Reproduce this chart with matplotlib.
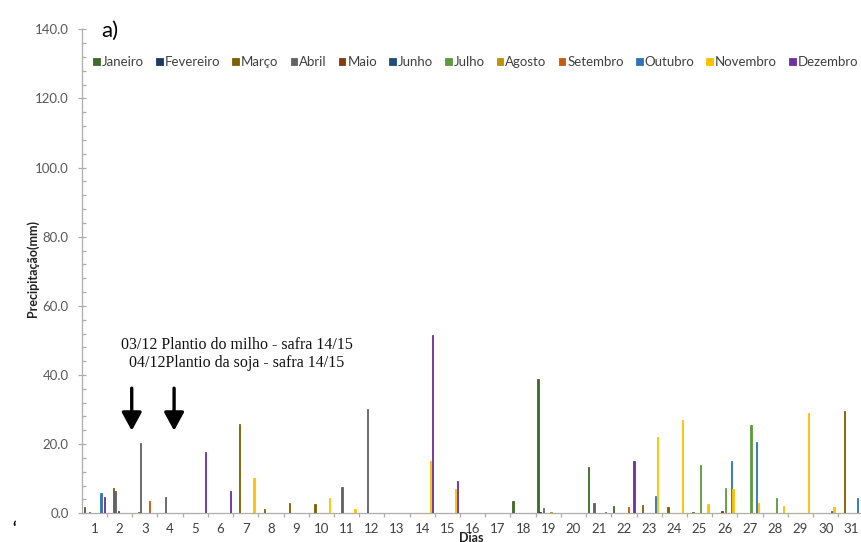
import numpy as np
import matplotlib
matplotlib.use("Agg")
import matplotlib.pyplot as plt

# Daily rainfall (mm) for each month, days 1..31
days = np.arange(1, 32)

janeiro   = [1.7, 0, 0, 0, 0, 0, 0, 0, 0, 0, 0, 0, 0, 0, 0, 0, 0, 3.6, 38.9, 0, 13.5, 2.1, 0, 0, 0, 0, 0, 0, 0, 0, 0]
fevereiro = [0, 0, 0, 0, 0, 0, 0, 0, 0, 0, 0, 0, 0, 0, 0, 0, 0, 0, 0.4, 0, 0, 0, 0, 0, 0, 0, 0, 0, 0, 0, 0]
marco     = [0, 7.4, 0.4, 0, 0, 0, 25.9, 1.3, 3.1, 2.7, 0, 0, 0, 0, 0, 0, 0, 0, 0, 0, 0, 0, 2.3, 1.7, 0.3, 0, 0, 0, 0, 0, 29.6]
abril     = [0.3, 6.5, 20.3, 4.7, 0, 0, 0, 0, 0, 0, 7.7, 30.1, 0, 0, 0, 0, 0, 0, 1.5, 0, 3.1, 0, 0, 0, 0, 0, 0, 0, 0, 0, 0]
maio      = [0, 0, 0, 0, 0, 0, 0, 0, 0, 0, 0, 0, 0, 0, 0, 0, 0, 0, 0, 0, 0, 0, 0, 0, 0, 0.6, 0, 0, 0, 0, 0]
junho     = [0, 0.7, 0, 0, 0, 0, 0, 0, 0, 0, 0, 0, 0, 0, 0, 0, 0, 0, 0, 0, 0, 0, 0, 0, 0, 0, 0, 0, 0, 0, 0]
julho     = [0, 0, 0, 0, 0, 0, 0, 0, 0, 0, 0, 0, 0, 0, 0, 0, 0, 0, 0, 0, 0, 0, 0, 0, 14.1, 7.3, 25.6, 4.3, 0, 0, 0]
agosto    = [0, 0, 0, 0, 0, 0, 0, 0, 0, 0, 0, 0, 0, 0, 0, 0, 0, 0, 0.3, 0, 0, 0, 0, 0, 0, 0, 0, 0, 0, 0, 0]
setembro  = [0, 0, 3.6, 0, 0, 0, 0, 0, 0, 0, 0, 0, 0, 0, 0, 0, 0, 0, 0, 0, 0, 1.7, 0, 0, 0, 0, 0, 0, 0, 0, 0]
outubro   = [5.9, 0, 0, 0, 0, 0, 0, 0, 0, 0, 0, 0, 0, 0, 0, 0, 0, 0, 0, 0, 0.3, 0, 5.1, 0, 0, 15.2, 20.7, 0, 0.2, 0.8, 4.3]
novembro  = [0, 0, 0, 0, 0, 0, 10.2, 0, 0, 4.3, 1.2, 0, 0, 15.0, 7.0, 0, 0, 0, 0, 0, 0, 0, 22.0, 26.9, 2.7, 6.9, 2.9, 2.1, 29.0, 1.7, 0]
dezembro  = [4.7, 0, 0, 0, 17.7, 6.5, 0, 0, 0, 0, 0, 0, 0, 51.6, 9.2, 0, 0, 0, 0, 0, 0, 15.2, 0, 0, 0, 0, 0, 0, 0, 0, 0]

month_names = ["Janeiro", "Fevereiro", "Março", "Abril", "Maio", "Junho",
               "Julho", "Agosto", "Setembro", "Outubro", "Novembro", "Dezembro"]
month_values = [janeiro, fevereiro, marco, abril, maio, junho,
                julho, agosto, setembro, outubro, novembro, dezembro]
month_colors = ["#3E6B2A", "#203864", "#7F6000", "#636363", "#843C0C", "#1F4E79",
                "#5E9A3E", "#BF9000", "#C55A11", "#2E75B6", "#FFC000", "#7030A0"]

y_ticks = [0, 20, 40, 60, 80, 100, 120, 140]

plt.rcParams["font.family"] = ["Lato", "DejaVu Sans"]

W, H = 862, 542
fig = plt.figure(figsize=(W / 100, H / 100), dpi=100)

left_px, right_px, bottom_px, top_px = 81.8, 863.5, 513.3, 29.3
ax = fig.add_axes([left_px / W, 1 - bottom_px / H,
                   (right_px - left_px) / W, (bottom_px - top_px) / H])

slot = 0.0733
for i, (name, vals, col) in enumerate(zip(month_names, month_values, month_colors)):
    ax.bar(days + (i - 5.5) * slot, vals, width=slot * 0.7, color=col,
           edgecolor=col, linewidth=0.6, label=name)

ax.set_xlim(0.5, 31.5)
ax.set_ylim(0, 140)

axis_col = "#ADADAD"
for s in ("top", "right"):
    ax.spines[s].set_visible(False)
for s in ("left", "bottom"):
    ax.spines[s].set_color(axis_col)
    ax.spines[s].set_linewidth(0.9)
    ax.spines[s].set_zorder(0.5)

ax.set_yticks(y_ticks)
ax.set_yticklabels([f"{v:.1f}" for v in y_ticks])
ax.set_yticks(np.arange(0, 141, 4), minor=True)
ax.tick_params(axis="y", which="major", direction="inout", length=6.3, width=0.9,
               color=axis_col, labelsize=9.5, labelcolor="#595959", pad=6.4)
ax.tick_params(axis="y", which="minor", direction="in", length=3.2, width=0.9,
               color=axis_col)

ax.set_xticks(days)
ax.set_xticklabels([str(d) for d in days])
ax.set_xticks(np.arange(1.5, 31.5, 1), minor=True)
ax.tick_params(axis="x", which="major", length=0, labelsize=9.5,
               labelcolor="#404040", pad=7)
ax.tick_params(axis="x", which="minor", direction="out", length=3, width=0.9,
               color=axis_col)

ax.set_ylabel("Precipitação(mm)", fontsize=9, fontweight="bold", color="#222222")
ax.yaxis.set_label_coords(-0.0547, 0.505)
ax.set_xlabel("Dias", fontsize=9, fontweight="bold", color="#222222")
ax.xaxis.set_label_coords(0.4985, -0.039)

leg = fig.legend(loc="center left", bbox_to_anchor=(93.5 / W, 1 - 62 / H),
                 ncol=12, frameon=False, fontsize=9.5, handlelength=0.5,
                 handleheight=0.5, handletextpad=0.15, columnspacing=0.92,
                 borderpad=0, borderaxespad=0)
for t in leg.get_texts():
    t.set_color("#404040")

fig.text(101.5 / W, 1 - 37 / H, "a)", fontsize=16, color="black",
         ha="left", va="baseline")

# Planting dates note with arrows
serif = ["Liberation Serif", "DejaVu Serif"]
ax.text(6.64, 48.6, "03/12 Plantio do milho - safra 14/15", family=serif,
        fontsize=11.5, ha="center", va="center", color="#111111")
ax.text(6.64, 43.6, "04/12Plantio da soja - safra 14/15", family=serif,
        fontsize=11.5, ha="center", va="center", color="#111111")
for xa in (2.48, 4.16):
    ax.annotate("", xy=(xa, 23.9), xytext=(xa, 36.2),
                arrowprops=dict(arrowstyle="-|>,head_length=1.1,head_width=0.6",
                                lw=2.4, color="black", shrinkA=0, shrinkB=0))

fig.text(14.5 / W, 1 - 529 / H, "\u2018", fontsize=12, fontweight="bold",
         ha="center", va="center", color="black")

fig.savefig("out.png", dpi=100)
